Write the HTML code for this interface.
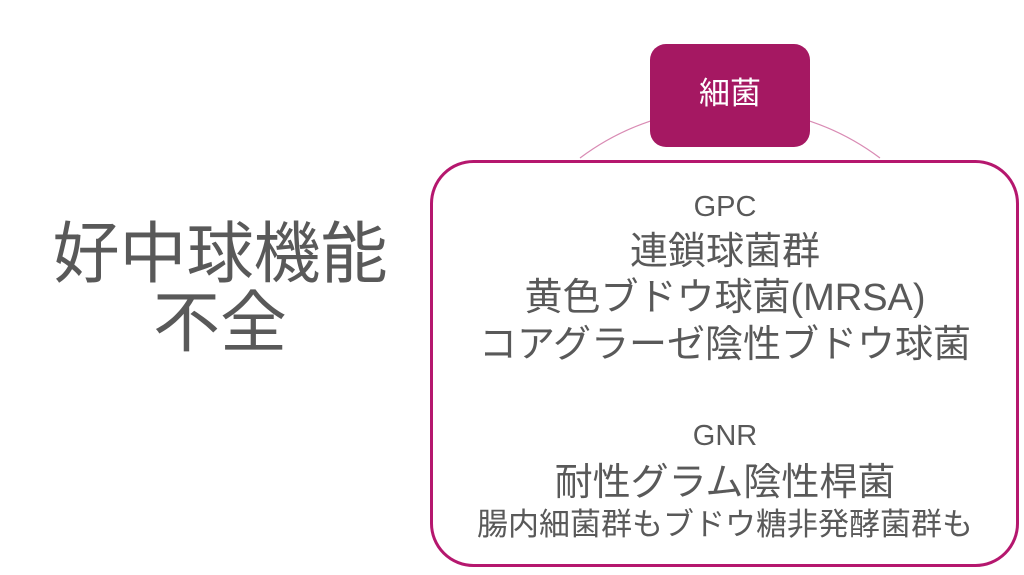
<!DOCTYPE html>
<html><head><meta charset="utf-8"><style>
body{margin:0;width:1024px;height:575px;background:#fff;position:relative;overflow:hidden;font-family:"Liberation Sans","Noto Sans CJK JP",sans-serif;color:#595959}
.t{position:absolute;white-space:nowrap;text-align:center;line-height:1}
</style></head><body>
<svg width="1024" height="575" style="position:absolute;left:0;top:0">
<path d="M580,158 A250,250 0 0 1 880,158" fill="none" stroke="#d98bb4" stroke-width="1.2"/>
<rect x="431.5" y="161.5" width="586" height="404" rx="42" fill="#fff" stroke="#b5176e" stroke-width="3"/>
<rect x="650" y="44" width="160" height="103" rx="16" fill="#a51862"/>
</svg>
<div class="t" style="left:650px;width:160px;top:78px;font-size:31px;color:#fff">細菌</div>
<div class="t" style="left:20px;width:400px;top:220px;font-size:67px;line-height:69px">好中球機能<br>不全</div>
<div class="t" style="left:431px;width:588px;top:193px;font-size:29px">GPC</div>
<div class="t" style="left:431px;width:588px;top:233px;font-size:38px">連鎖球菌群</div>
<div class="t" style="left:431px;width:588px;top:279px;font-size:38px">黄色ブドウ球菌(MRSA)</div>
<div class="t" style="left:431px;width:588px;top:326px;font-size:38px">コアグラーゼ陰性ブドウ球菌</div>
<div class="t" style="left:431px;width:588px;top:422px;font-size:29px">GNR</div>
<div class="t" style="left:431px;width:588px;top:464px;font-size:38px">耐性グラム陰性桿菌</div>
<div class="t" style="left:431px;width:588px;top:509px;font-size:31px">腸内細菌群もブドウ糖非発酵菌群も</div>
</body></html>
